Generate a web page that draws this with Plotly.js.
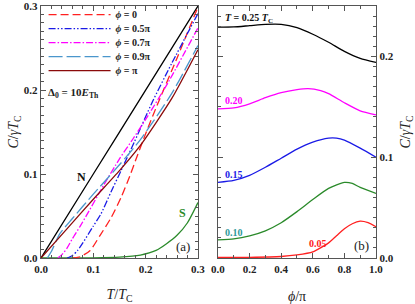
<!DOCTYPE html>
<html><head><meta charset="utf-8">
<script src="https://cdn.plot.ly/plotly-3.0.1.min.js"></script>
<style>html,body{margin:0;padding:0;background:#fff}#chart{width:415px;height:304px}</style>
</head><body><div id="chart"></div>
<script>
// ----- Panel (a): C/γTc vs T/Tc -----
var tN = [0, 0.1, 0.2, 0.3];
var cN = [0, 0.1, 0.2, 0.3];
var tS = [0, 0.1, 0.15, 0.19, 0.22, 0.24, 0.26, 0.28, 0.3];
var cS = [0, 0.0002, 0.001, 0.0035, 0.009, 0.017, 0.027, 0.042, 0.066];
var tPhi0 = [0.06, 0.075, 0.094, 0.113, 0.134, 0.153, 0.17, 0.183, 0.2, 0.224, 0.26, 0.3];
var cPhi0 = [0, 0.0015, 0.009, 0.027, 0.048, 0.072, 0.098, 0.12, 0.148, 0.185, 0.238, 0.299];
var tPhi05 = [0.05, 0.06, 0.07, 0.08, 0.09, 0.1, 0.115, 0.134, 0.153, 0.179, 0.213, 0.25, 0.3];
var cPhi05 = [0, 0.003, 0.009, 0.018, 0.028, 0.038, 0.053, 0.079, 0.104, 0.139, 0.186, 0.232, 0.291];
var tPhi07 = [0.032, 0.04, 0.05, 0.06, 0.075, 0.09, 0.12, 0.15, 0.176, 0.2, 0.243, 0.3];
var cPhi07 = [0, 0.004, 0.012, 0.023, 0.038, 0.054, 0.087, 0.118, 0.142, 0.165, 0.209, 0.274];
var tPhi09 = [0.012, 0.02, 0.036, 0.06, 0.1, 0.15, 0.19, 0.25, 0.3];
var cPhi09 = [0, 0.008, 0.029, 0.047, 0.076, 0.111, 0.141, 0.196, 0.253];
var tPhi1 = [0, 0.05, 0.1, 0.15, 0.19, 0.25, 0.3];
var cPhi1 = [0, 0.035, 0.07, 0.104, 0.134, 0.19, 0.248];
var legendNames = ['<i>ϕ</i> = 0', '<i>ϕ</i> = 0.5π', '<i>ϕ</i> = 0.7π', '<i>ϕ</i> = 0.9π', '<i>ϕ</i> = π'];

// ----- Panel (b): C/γTc vs ϕ/π -----
var phi25 = [0, 0.1, 0.2, 0.3, 0.4, 0.5, 0.6, 0.7, 0.8, 0.9, 1.0];
var c25 = [0.229, 0.2292, 0.2305, 0.2318, 0.2318, 0.2285, 0.222, 0.214, 0.205, 0.198, 0.194];
var phi20 = [0, 0.1, 0.2, 0.3, 0.4, 0.5, 0.57, 0.65, 0.7, 0.8, 0.9, 1.0];
var c20 = [0.148, 0.149, 0.153, 0.159, 0.164, 0.167, 0.168, 0.166, 0.163, 0.154, 0.146, 0.142];
var phi15 = [0, 0.1, 0.2, 0.3, 0.4, 0.5, 0.6, 0.7, 0.75, 0.8, 0.9, 1.0];
var c15 = [0.075, 0.077, 0.082, 0.09, 0.099, 0.108, 0.115, 0.119, 0.119, 0.117, 0.109, 0.1];
var phi10 = [0, 0.1, 0.2, 0.3, 0.4, 0.5, 0.6, 0.7, 0.8, 0.85, 0.9, 1.0];
var c10 = [0.018, 0.019, 0.022, 0.027, 0.035, 0.046, 0.058, 0.069, 0.075, 0.074, 0.07, 0.064];
var phi05 = [0, 0.2, 0.4, 0.5, 0.6, 0.7, 0.75, 0.8, 0.85, 0.9, 0.95, 1.0];
var c05 = [0.0005, 0.0007, 0.0015, 0.003, 0.006, 0.015, 0.022, 0.029, 0.034, 0.0365, 0.035, 0.031];
var tempLabels = ['0.20', '0.15', '0.10', '0.05'];

var SERIF = 'Liberation Serif, Times New Roman, serif';
var W = 1.3;
function ln(x, y, color, dash, name, xa, ya, show) {
  return {x: x, y: y, type: 'scatter', mode: 'lines', name: name || '',
    showlegend: !!show, xaxis: xa, yaxis: ya,
    line: {color: color, width: W, dash: dash || 'solid', shape: 'spline', smoothing: 0.6},
    hoverinfo: 'skip'};
}
var traces = [
  ln(tN, cN, '#000000', 'solid', 'N', 'x', 'y', false),
  ln(tS, cS, '#2a8a2a', 'solid', 'S', 'x', 'y', false),
  ln(tPhi0, cPhi0, '#ff2020', '8px,4px', legendNames[0], 'x', 'y', true),
  ln(tPhi05, cPhi05, '#1a1ae6', '7px,2px,1.5px,2px,1.5px,2px', legendNames[1], 'x', 'y', true),
  ln(tPhi07, cPhi07, '#ff00ff', '7px,2px,1.5px,2px', legendNames[2], 'x', 'y', true),
  ln(tPhi09, cPhi09, '#4a96cc', '14px,4px', legendNames[3], 'x', 'y', true),
  ln(tPhi1, cPhi1, '#8b0a0a', 'solid', legendNames[4], 'x', 'y', true),
  ln(phi25, c25, '#000000', 'solid', '', 'x2', 'y2', false),
  ln(phi20, c20, '#ff00ff', 'solid', '', 'x2', 'y2', false),
  ln(phi15, c15, '#1a1ae6', 'solid', '', 'x2', 'y2', false),
  ln(phi10, c10, '#2a8a2a', 'solid', '', 'x2', 'y2', false),
  ln(phi05, c05, '#ff2020', 'solid', '', 'x2', 'y2', false)
];

var tickFont = {family: SERIF, size: 11, color: '#222', weight: 'bold'};
function axis(extra) {
  var a = {showgrid: false, zeroline: false, showline: true, linecolor: '#555', linewidth: 1.4,
    mirror: 'ticks', ticks: 'inside', ticklen: 5, tickwidth: 1, tickcolor: '#555',
    tickfont: tickFont, automargin: false, fixedrange: true, ticklabeloverflow: 'allow'};
  for (var k in extra) a[k] = extra[k];
  return a;
}
var titleFont = {family: SERIF, size: 14, color: '#222'};
var yDom = [0.1513, 0.9803];
var layout = {
  width: 415, height: 304,
  margin: {l: 0, r: 0, t: 0, b: 0},
  paper_bgcolor: '#fff', plot_bgcolor: '#fff',
  showlegend: true,
  legend: {x: 0.105, y: 0.99, xanchor: 'left', yanchor: 'top', bgcolor: 'rgba(0,0,0,0)',
    font: {family: SERIF, size: 10, color: '#222', weight: 'bold'}, itemwidth: 62, tracegroupgap: 0},
  xaxis: axis({domain: [0.0988, 0.4771], range: [0, 0.3001], dtick: 0.1, tickformat: '.1f',
    minor: {dtick: 0.02, ticklen: 3, tickcolor: '#555', ticks: 'inside'},
    title: {text: '<i>T</i>/<i>T</i><sub>C</sub>', font: titleFont, standoff: 22}}),
  yaxis: axis({domain: yDom, range: [0, 0.3001], dtick: 0.1, tickformat: '.1f',
    minor: {dtick: 0.01, ticklen: 3, tickcolor: '#555', ticks: 'inside'},
    title: {text: '<i>C</i>/<i>γT</i><sub>C</sub>', font: titleFont, standoff: 1}}),
  xaxis2: axis({domain: [0.5253, 0.906], range: [0, 1], dtick: 0.2, tickformat: '.1f', anchor: 'y2',
    minor: {dtick: 0.1, ticklen: 3, tickcolor: '#555', ticks: 'inside'},
    title: {text: '<i>ϕ</i>/π', font: titleFont, standoff: 22}}),
  yaxis2: axis({domain: yDom, range: [0, 0.25], dtick: 0.1, tickformat: '.1f', anchor: 'x2', side: 'right',
    minor: {dtick: 0.01, ticklen: 3, tickcolor: '#555', ticks: 'inside'},
    title: {text: '<i>C</i>/<i>γT</i><sub>C</sub>', font: titleFont, standoff: 8}}),
  annotations: [
    {xref: 'x', yref: 'y', x: 0.078, y: 0.096, text: '<b>N</b>', showarrow: false, font: {family: SERIF, size: 12, color: '#111'}},
    {xref: 'x', yref: 'y', x: 0.27, y: 0.053, text: '<b>S</b>', showarrow: false, font: {family: SERIF, size: 12, color: '#2a8a2a'}},
    {xref: 'x', yref: 'y', x: 0.272, y: 0.014, text: '(a)', showarrow: false, font: {family: SERIF, size: 13, color: '#222'}},
    {xref: 'x', yref: 'y', x: 0.01, y: 0.197, xanchor: 'left', text: 'Δ<sub>0</sub> = 10<i>E</i><sub>Th</sub>', showarrow: false, font: {family: SERIF, size: 11, color: '#222', weight: 'bold'}},
    {xref: 'x2', yref: 'y2', x: 0.03, y: 0.238, xanchor: 'left', text: '<i>T</i> = 0.25 <i>T</i><sub>C</sub>', showarrow: false, font: {family: SERIF, size: 10, color: '#111', weight: 'bold'}},
    {xref: 'x2', yref: 'y2', x: 0.03, y: 0.156, xanchor: 'left', text: tempLabels[0], showarrow: false, font: {family: SERIF, size: 10, color: '#ff00ff', weight: 'bold'}},
    {xref: 'x2', yref: 'y2', x: 0.03, y: 0.083, xanchor: 'left', text: tempLabels[1], showarrow: false, font: {family: SERIF, size: 10, color: '#1a1ae6', weight: 'bold'}},
    {xref: 'x2', yref: 'y2', x: 0.03, y: 0.025, xanchor: 'left', text: tempLabels[2], showarrow: false, font: {family: SERIF, size: 10, color: '#2e9a9a', weight: 'bold'}},
    {xref: 'x2', yref: 'y2', x: 0.63, y: 0.014, text: tempLabels[3], showarrow: false, font: {family: SERIF, size: 10, color: '#ff2020', weight: 'bold'}},
    {xref: 'x2', yref: 'y2', x: 0.91, y: 0.012, text: '(b)', showarrow: false, font: {family: SERIF, size: 13, color: '#222'}}
  ]
};
Plotly.newPlot('chart', traces, layout, {staticPlot: true, displayModeBar: false}).then(function () {
  // tighten the library's legend rows to the reference's 14px spacing
  var items = document.querySelectorAll('.legend .traces');
  items.forEach(function (g, i) { g.setAttribute('transform', 'translate(0,' + (11.5 + 14 * i) + ')'); });
});
</script>
</body></html>
